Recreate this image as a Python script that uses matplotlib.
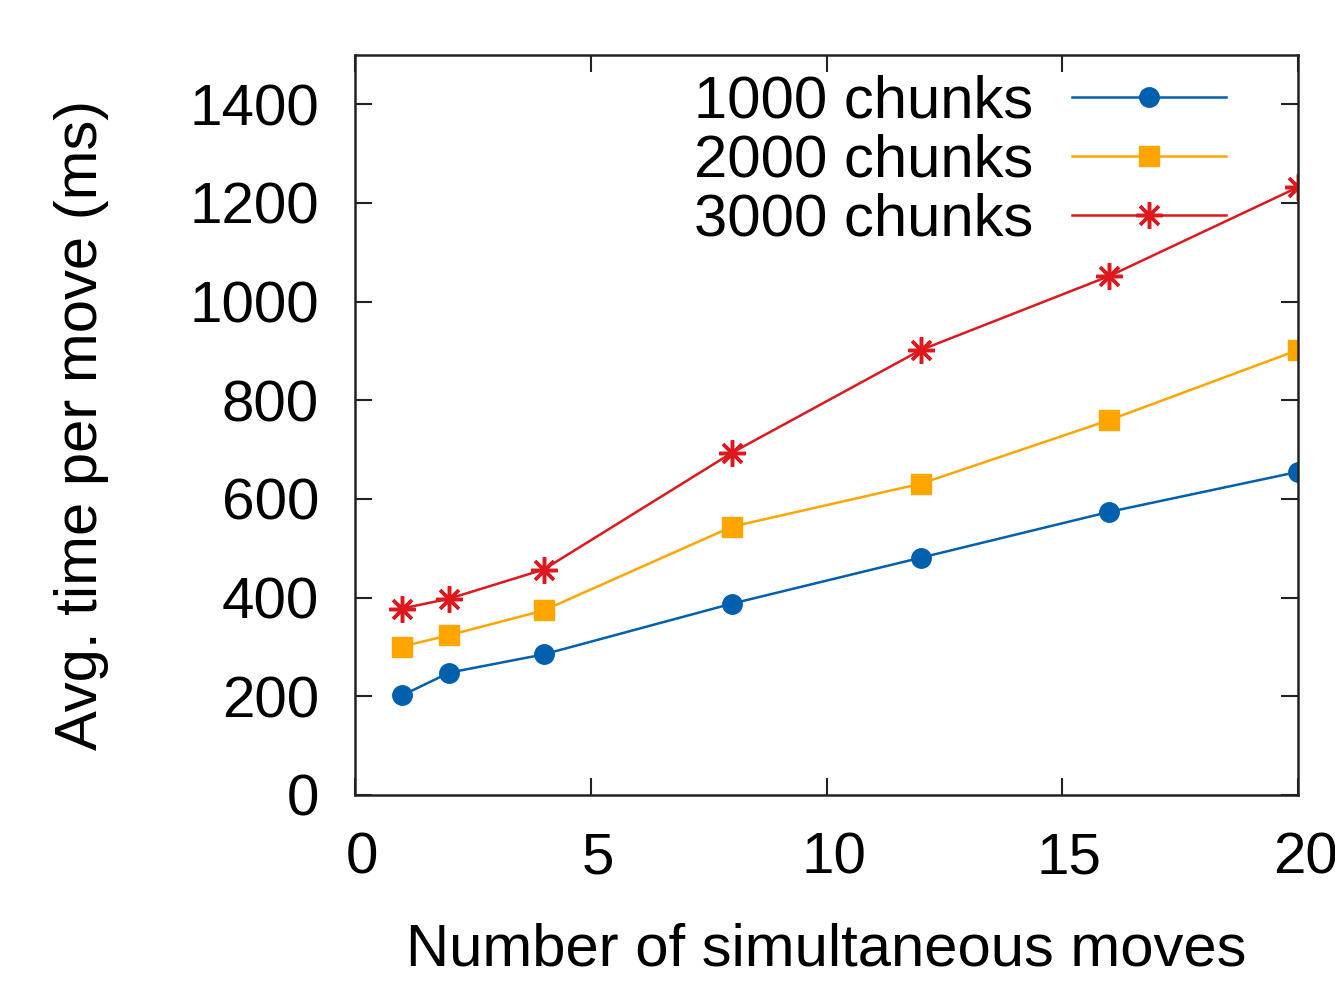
import matplotlib
matplotlib.use("Agg")
import matplotlib.pyplot as plt
from matplotlib.transforms import ScaledTranslation

x_moves = [1, 2, 4, 8, 12, 16, 20]
chunks_1000 = [202, 248, 285, 388, 481, 574, 655]
chunks_2000 = [301, 324, 374, 544, 631, 760, 902]
chunks_3000 = [378, 398, 457, 694, 902, 1052, 1232]
series_labels = ["1000 chunks", "2000 chunks", "3000 chunks"]
x_ticks = [0, 5, 10, 15, 20]
y_ticks = [0, 200, 400, 600, 800, 1000, 1200, 1400]

plt.rcParams['font.family'] = ['Liberation Sans', 'DejaVu Sans']

fig = plt.figure(figsize=(13.35, 9.83), dpi=100)
ax = fig.add_axes([355/1335, 1-795/983, (1298-355)/1335, (795-55)/983])

ax.plot(x_moves, chunks_1000, color='#0060AD', lw=1.8, marker='o', ms=14, label=series_labels[0])
ax.plot(x_moves, chunks_2000, color='#FFA500', lw=1.8, marker='s', ms=14.5, label=series_labels[1])
ax.plot(x_moves, chunks_3000, color='#DD181F', lw=1.8, marker=(8, 2, 0), ms=19, mew=2.5, label=series_labels[2])

ax.set_xlim(0, 20)
ax.set_ylim(0, 1500)
ax.set_xticks(x_ticks)
ax.set_yticks(y_ticks)
ax.tick_params(direction='in', length=12, width=1.5, labelsize=42, pad=26,
               top=True, right=True, colors='#222222', labelcolor='black')
for s in ax.spines.values():
    s.set_linewidth(1.8)
    s.set_color('#222222')

offset = ScaledTranslation(7/100, 0, fig.dpi_scale_trans)
for lbl in ax.get_xticklabels():
    lbl.set_transform(lbl.get_transform() + offset)

ax.set_xlabel("Number of simultaneous moves", fontsize=43, labelpad=27)
ax.set_ylabel("Avg. time per move (ms)", fontsize=43, labelpad=58)

leg = ax.legend(loc='upper right', frameon=False, markerfirst=False, fontsize=43,
                handlelength=2.58, handletextpad=0.65, labelspacing=0.07,
                bbox_to_anchor=(0.962, 1.022), borderaxespad=0.2)

fig.savefig("out.png", dpi=100)
